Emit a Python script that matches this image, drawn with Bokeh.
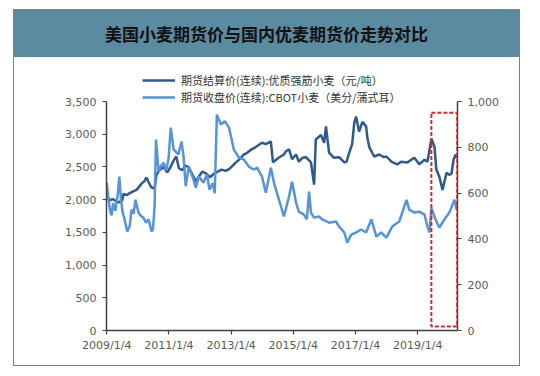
import pandas as pd
from bokeh.plotting import figure
from bokeh.layouts import column
from bokeh.models import (LinearAxis, Range1d, FixedTicker, NumeralTickFormatter,
                          BoxAnnotation, Legend, LegendItem, ColumnDataSource, Div)
from bokeh.embed import file_html
from bokeh.resources import INLINE

# ---------------- data ----------------
title_text = "美国小麦期货价与国内优麦期货价走势对比"
dark_label = "期货结算价(连续):优质强筋小麦（元/吨）"
light_label = "期货收盘价(连续):CBOT小麦（美分/蒲式耳）"

dark_dates = [
    "2009-01-04", "2009-02-10", "2009-03-15", "2009-04-20", "2009-05-25", "2009-07-05",
    "2009-07-20", "2009-08-25", "2009-10-01", "2009-11-15", "2009-12-20", "2010-01-20",
    "2010-02-20", "2010-03-20", "2010-04-15", "2010-05-10", "2010-06-10", "2010-07-20",
    "2010-08-10", "2010-09-15", "2010-11-01", "2010-12-15", "2011-01-15", "2011-03-01",
    "2011-04-01", "2011-05-01", "2011-06-10", "2011-07-15", "2011-08-20", "2011-10-01",
    "2011-11-15", "2011-12-20", "2012-02-01", "2012-03-15", "2012-05-01", "2012-06-15",
    "2012-08-01", "2012-09-15", "2012-11-01", "2012-12-15", "2013-03-01", "2013-04-15",
    "2013-06-01", "2013-07-15", "2013-09-01", "2013-10-15", "2014-01-01", "2014-02-15",
    "2014-04-15", "2014-05-10", "2014-07-15", "2014-09-15", "2014-10-10", "2014-11-15",
    "2014-12-20", "2015-02-05", "2015-03-10", "2015-04-20", "2015-06-01", "2015-07-30",
    "2015-09-05", "2015-09-25", "2015-11-25", "2016-01-01", "2016-01-22", "2016-02-28",
    "2016-04-25", "2016-06-25", "2016-08-25", "2016-09-20", "2016-10-22", "2016-11-25",
    "2016-12-20", "2017-01-10", "2017-02-15", "2017-03-25", "2017-05-08", "2017-05-22",
    "2017-06-15", "2017-08-10", "2017-10-10", "2017-12-01", "2018-01-01", "2018-03-01",
    "2018-05-08", "2018-06-25", "2018-09-05", "2018-11-25", "2019-01-22", "2019-03-25",
    "2019-04-28", "2019-06-13", "2019-07-20", "2019-08-10", "2019-09-15", "2019-10-22",
    "2019-12-08", "2020-01-10", "2020-02-05", "2020-02-28", "2020-03-25", "2020-04-05",
]
dark_values = [
    2050, 1990, 2010, 1980, 1960, 1990,
    2090, 2070, 2100, 2130, 2150, 2200,
    2250, 2280, 2340, 2270, 2190, 2170,
    2380, 2450, 2500, 2420, 2480, 2600,
    2660, 2480, 2450, 2520, 2500, 2400,
    2280, 2350, 2430, 2400, 2340, 2400,
    2430, 2460, 2440, 2470, 2570, 2620,
    2690, 2720, 2770, 2800, 2870, 2850,
    2890, 2570, 2640, 2690, 2740, 2770,
    2620, 2690, 2580, 2640, 2650, 2570,
    2230, 2920, 2990, 2870, 3120, 2720,
    2640, 2650, 2570, 2580, 2720, 2850,
    3180, 3270, 3040, 3190, 3120, 2950,
    2800, 2660, 2690, 2650, 2660, 2580,
    2540, 2580, 2570, 2640, 2540, 2610,
    2580, 2930, 2810, 2460, 2350, 2150,
    2410, 2380, 2400, 2610, 2690, 2640,
]

light_dates = [
    "2009-01-04", "2009-01-20", "2009-02-10", "2009-03-01", "2009-03-20", "2009-04-15",
    "2009-05-15", "2009-06-01", "2009-06-20", "2009-07-10", "2009-08-01", "2009-09-01",
    "2009-10-01", "2009-10-22", "2009-11-15", "2009-12-08", "2010-01-12", "2010-02-10",
    "2010-03-10", "2010-04-10", "2010-05-10", "2010-06-15", "2010-07-01", "2010-07-20",
    "2010-08-05", "2010-09-05", "2010-10-05", "2010-11-03", "2010-12-05", "2011-01-01",
    "2011-01-25", "2011-02-10", "2011-03-01", "2011-04-25", "2011-06-01", "2011-06-25",
    "2011-07-20", "2011-08-25", "2011-10-20", "2011-11-15", "2011-12-20", "2012-02-15",
    "2012-03-25", "2012-04-25", "2012-06-01", "2012-06-25", "2012-07-20", "2012-09-05",
    "2012-10-22", "2012-12-10", "2013-02-05", "2013-04-05", "2013-06-01", "2013-07-30",
    "2013-09-25", "2013-11-05", "2014-01-01", "2014-02-15", "2014-04-15", "2014-05-25",
    "2014-07-20", "2014-09-15", "2014-11-15", "2014-12-20", "2015-02-05", "2015-03-10",
    "2015-05-08", "2015-06-12", "2015-07-08", "2015-07-30", "2015-09-05", "2015-11-01",
    "2015-12-10", "2016-02-28", "2016-05-20", "2016-06-25", "2016-08-25", "2016-09-28",
    "2016-11-15", "2017-01-10", "2017-03-10", "2017-05-08", "2017-07-08", "2017-09-05",
    "2017-11-01", "2018-01-01", "2018-03-10", "2018-06-01", "2018-08-25", "2018-09-25",
    "2018-11-25", "2019-01-22", "2019-03-25", "2019-04-28", "2019-05-22", "2019-06-13",
    "2019-07-30", "2019-09-15", "2019-11-15", "2020-01-10", "2020-03-10", "2020-04-05",
]
light_values = [
    646, 586, 529, 503, 557, 523,
    600, 672, 571, 515, 486, 432,
    457, 528, 510, 571, 514, 500,
    493, 471, 486, 432, 443, 543,
    834, 694, 720, 733, 700, 755,
    886, 843, 790, 769, 825, 760,
    630, 716, 659, 624, 672, 646,
    681, 615, 643, 600, 943, 900,
    914, 886, 790, 755, 747, 716,
    703, 711, 672, 602, 711, 640,
    571, 498, 585, 650, 559, 519,
    506, 486, 607, 515, 493, 498,
    485, 471, 476, 454, 428, 384,
    419, 428, 441, 428, 485, 410,
    428, 406, 454, 476, 571, 528,
    515, 519, 506, 454, 428, 535,
    486, 450, 486, 515, 571, 528,
]

x_tick_dates = ["2009-01-04", "2011-01-04", "2013-01-04", "2015-01-04", "2017-01-04", "2019-01-04"]
x_tick_labels = ["2009/1/4", "2011/1/4", "2013/1/4", "2015/1/4", "2017/1/4", "2019/1/4"]
left_ticks = [0, 500, 1000, 1500, 2000, 2500, 3000, 3500]
right_ticks = [0, 200, 400, 600, 800, 1000]
left_axis_max, right_axis_max = 3500, 1000
# headroom above the axes, where the legend sits
left_range_end, right_range_end = 3990, 1140

highlight_start, highlight_end = "2019-06-13", "2020-04-11"
highlight_bottom, highlight_top = 60, 3330


def ms(d):
    return float(pd.Timestamp(d).value // 10**6)


band_color = "#5b8ba0"
BOX_W = 505

# ---------------- title band ----------------
title_div = Div(text=title_text, width=BOX_W, height=47, margin=0,
                styles={"background-color": band_color, "color": "#111111",
                        "font-family": "'Noto Sans CJK SC'", "font-weight": "bold",
                        "font-size": "17px", "text-align": "center",
                        "line-height": "47px"})

# ---------------- main chart ----------------
p = figure(width=BOX_W, height=308, x_axis_type="datetime", output_backend="svg",
           toolbar_location=None, title=None, margin=0,
           x_range=(pd.Timestamp("2009-01-01"), pd.Timestamp("2020-04-15")),
           y_range=(0, left_range_end),
           min_border_left=92, min_border_right=62,
           min_border_top=12, min_border_bottom=35)
p.outline_line_color = None
p.grid.visible = False
p.background_fill_color = "white"
p.border_fill_color = "white"
p.extra_y_ranges = {"cbot": Range1d(0, right_range_end)}

tick_font = "DejaVu Sans"
tick_color = "#595959"
axis_color = "#404040"

xa = p.xaxis[0]
xa.ticker = FixedTicker(ticks=[ms(d) for d in x_tick_dates])
xa.major_label_overrides = {ms(d): lab for d, lab in zip(x_tick_dates, x_tick_labels)}
xa.minor_tick_line_color = None

ya = p.yaxis[0]
ya.ticker = FixedTicker(ticks=left_ticks)
ya.formatter = NumeralTickFormatter(format="0,0")
ya.bounds = (0, left_axis_max)
ya.minor_tick_line_color = None

ra = LinearAxis(y_range_name="cbot", ticker=FixedTicker(ticks=right_ticks),
                formatter=NumeralTickFormatter(format="0,0"),
                bounds=(0, right_axis_max))
ra.minor_tick_line_color = None
p.add_layout(ra, "right")

for ax in (xa, ya, ra):
    ax.axis_line_color = axis_color
    ax.axis_line_width = 1.5
    ax.major_tick_line_color = axis_color
    ax.major_tick_line_width = 1.2
    ax.major_tick_in = 0
    ax.major_tick_out = 4
    ax.major_label_text_font = tick_font
    ax.major_label_text_font_size = "11px"
    ax.major_label_text_color = tick_color
    ax.major_label_standoff = 6
xa.major_label_standoff = 4

dark_src = ColumnDataSource(dict(date=pd.to_datetime(dark_dates), value=dark_values))
light_src = ColumnDataSource(dict(date=pd.to_datetime(light_dates), value=light_values))

dark_color = "#305a88"
light_color = "#5594d9"
r_dark = p.line("date", "value", source=dark_src, line_color=dark_color, line_width=2.5)
r_light = p.line("date", "value", source=light_src, y_range_name="cbot",
                 line_color=light_color, line_width=2.5)

p.add_layout(BoxAnnotation(left=ms(highlight_start), right=ms(highlight_end),
                           bottom=highlight_bottom, top=highlight_top,
                           fill_alpha=0, line_color="#d42a2a", line_alpha=1,
                           line_width=2, line_dash="4 2"))

legend_style = dict(orientation="vertical", border_line_color=None,
                    background_fill_alpha=0, padding=0, margin=0, spacing=0,
                    glyph_width=33, glyph_height=14, label_height=14,
                    label_standoff=6, label_text_font="Noto Sans CJK SC",
                    label_text_font_size="11px", label_text_color="#333333")
p.add_layout(Legend(items=[LegendItem(label=dark_label, renderers=[r_dark])],
                    location=(36, 242), **legend_style))
p.add_layout(Legend(items=[LegendItem(label=light_label, renderers=[r_light])],
                    location=(36, 225), **legend_style))

layout = column(title_div, p, spacing=0, margin=(9, 0, 0, 13),
                styles={"border": "1.5px solid #7f7f7f", "box-sizing": "content-box"})

with open("out.html", "w", encoding="utf-8") as f:
    f.write(file_html(layout, INLINE))
